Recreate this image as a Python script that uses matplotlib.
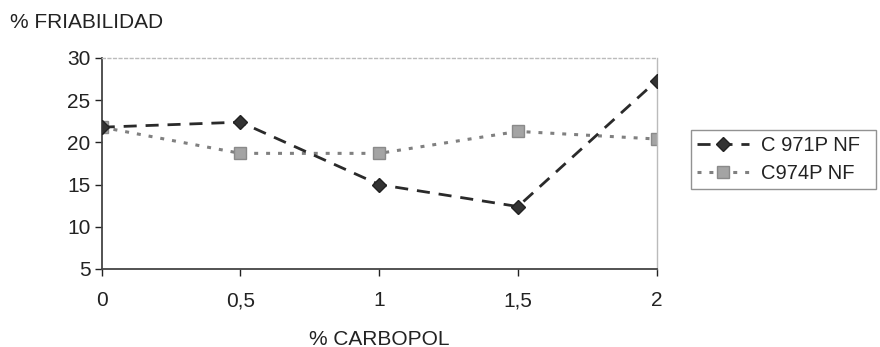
import matplotlib
matplotlib.use("Agg")
import matplotlib.pyplot as plt

plt.rcParams['font.family'] = ['Liberation Sans', 'DejaVu Sans']

x_vals = [0, 0.5, 1, 1.5, 2]
x_labels = ["0", "0,5", "1", "1,5", "2"]
c971 = [21.8, 22.4, 15.0, 12.4, 27.3]
c974 = [21.8, 18.7, 18.7, 21.3, 20.4]
y_ticks = [5, 10, 15, 20, 25, 30]

FS = 15

fig = plt.figure(figsize=(8.8, 3.47), dpi=100)
ax = fig.add_axes([0.1156, 0.2248, 0.6306, 0.6081])

ax.plot(x_vals, c971, linestyle=(0, (4.7, 3.2)), color='#2a2a2a', linewidth=2.0,
        marker='D', markersize=7.5, markerfacecolor='#333333', markeredgecolor='#222222',
        label='C 971P NF', zorder=3)
ax.plot(x_vals, c974, linestyle=(0, (1.3, 2.6)), color='#808080', linewidth=2.2,
        marker='s', markersize=8.5, markerfacecolor='#a4a4a4', markeredgecolor='#8a8a8a',
        label='C974P NF', zorder=2)

ax.set_xlim(0, 2)
ax.set_ylim(5, 30)
ax.set_xticks(x_vals)
ax.set_xticklabels(x_labels)
ax.set_yticks(y_ticks)
ax.tick_params(axis='both', labelsize=FS, colors='#222222', length=5, width=1)
ax.tick_params(axis='x', pad=11)
ax.tick_params(axis='y', pad=3)

for s in ['left', 'bottom']:
    ax.spines[s].set_color('#444444')
    ax.spines[s].set_linewidth(1.3)
for s in ['top', 'right']:
    ax.spines[s].set_color('#bbbbbb')
    ax.spines[s].set_linewidth(1.0)
ax.spines['top'].set_linestyle((0, (2, 2)))

ax.set_xlabel('% CARBOPOL', fontsize=FS, color='#222222', labelpad=14)
fig.text(10/880, 1-23/347, '% FRIABILIDAD', fontsize=FS, color='#222222',
         ha='left', va='center')

leg = ax.legend(loc='center', bbox_to_anchor=(691/880, 1-191/347, (876-691)/880, (191-128)/347),
                bbox_transform=fig.transFigure, mode='expand', fontsize=14.5, frameon=True,
                fancybox=False, edgecolor='#777777', handlelength=2.6, borderpad=0.3,
                labelspacing=0.45, handletextpad=0.6, borderaxespad=0)
leg.get_frame().set_linewidth(1.0)
for t in leg.get_texts():
    t.set_color('#222222')

fig.savefig('out.png', dpi=100, facecolor='white')
